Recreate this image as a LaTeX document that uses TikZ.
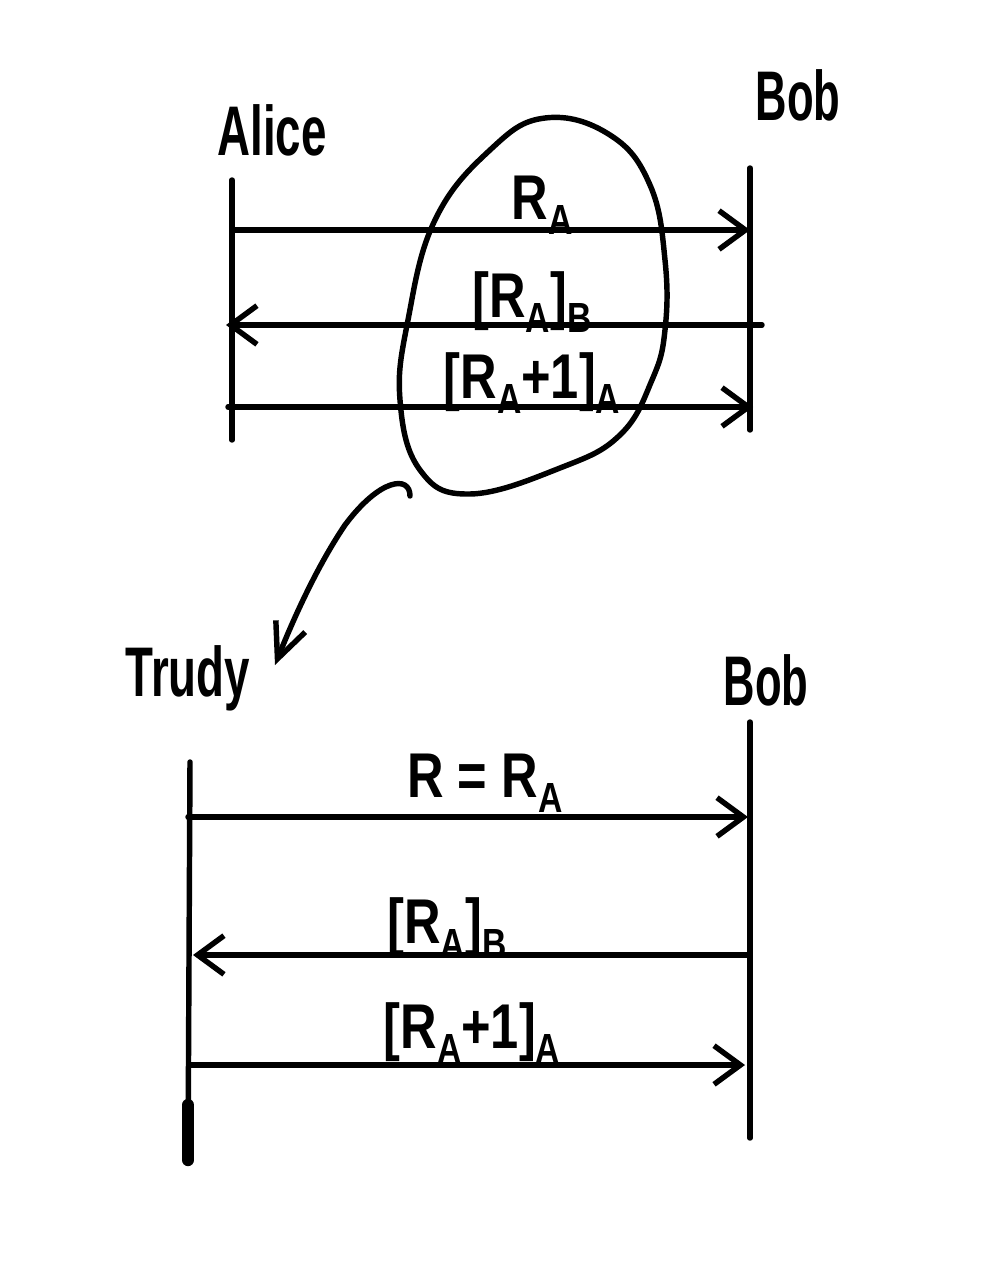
\documentclass[tikz,border=0pt]{standalone}
\usepackage{fontspec}
\usepackage{graphicx}
\setmainfont{Liberation Sans}
\usetikzlibrary{arrows.meta}
\newcommand\narrow[2]{\scalebox{#1}[1]{#2}}
\newcommand\sbs[1]{\raisebox{-0.45ex}{\fontsize{24}{26}\selectfont #1}}
\begin{document}
\begin{tikzpicture}[x=0.02cm,y=-0.02cm,
  ink/.style={line width=3.1pt,line cap=round,line join=round},
  msg/.style={ink,-{Straight Barb[length=15pt,width=22pt,line width=3.1pt]}},
  who/.style={font=\fontsize{40}{44}\selectfont\bfseries, inner sep=0pt},
  lbl/.style={font=\fontsize{36}{40}\selectfont\bfseries, inner sep=0pt}]
\useasboundingbox (0,0) rectangle (1000,1261);
% ---- top part
\node[who] (alice) at (272,130) {\narrow{0.65}{Alice}};
\node[who] (bob1) at (798,95) {\narrow{0.62}{Bob}};
\coordinate (a0) at (232,180);
\coordinate (a1) at (232,440);
\coordinate (b0) at (750,168);
\coordinate (b1) at (750,430);
\draw[ink] (a0) -- (a1);
\draw[ink] (b0) -- (b1);
\coordinate (m1s) at (232,230);
\coordinate (m1e) at (750,230);
\coordinate (m2s) at (762,325);
\coordinate (m2e) at (226,325);
\coordinate (m3s) at (228,407);
\coordinate (m3e) at (753,407);
\draw[msg] (m1s) -- (m1e);
\draw[msg] (m2s) -- (m2e);
\draw[msg] (m3s) -- (m3e);
\node[lbl] (l1) at (542,205) {\narrow{0.8}{R\sbs{A}}};
\node[lbl] (l2) at (532,302) {\narrow{0.8}{[R\sbs{A}]\sbs{B}}};
\node[lbl] (l3) at (532,383) {\narrow{0.8}{[R\sbs{A}+1]\sbs{A}}};
% blob
\draw[ink] plot[smooth cycle, tension=0.7] coordinates {
  (545,118) (610,135) (650,185) (665,260) (665,330) (652,380)
  (620,435) (560,468) (470,494) (420,470) (400,400) (408,320)
  (435,220) (490,150)};
% curved arrow
\coordinate (c0) at (410,496);
\coordinate (c1) at (275,665);
\draw[ink,-{Straight Barb[length=20pt,width=18pt,line width=3.1pt]}]
  (c0) .. controls (410,475) and (380,478) .. (345,525)
  .. controls (318,565) and (295,615) .. (c1);
% ---- bottom part
\node[who] (trudy) at (188,678) {\narrow{0.65}{Trudy}};
\node[who] (bob2) at (766,680) {\narrow{0.62}{Bob}};
\coordinate (t0) at (190,762);
\coordinate (t1) at (188,1160);
\coordinate (t2) at (188,1105);
\coordinate (c0b) at (750,722);
\coordinate (c1b) at (750,1138);
\draw[ink] (t0) -- (t1);
\draw[line width=7pt,line cap=round] (t2) -- (t1);
\draw[ink] (c0b) -- (c1b);
\coordinate (n1s) at (188,817);
\coordinate (n1e) at (748,817);
\coordinate (n2s) at (750,955);
\coordinate (n2e) at (193,955);
\coordinate (n3s) at (189,1065);
\coordinate (n3e) at (745,1065);
\draw[msg] (n1s) -- (n1e);
\draw[msg] (n2s) -- (n2e);
\draw[msg] (n3s) -- (n3e);
\node[lbl] (k1) at (485,783) {\narrow{0.8}{R = R\sbs{A}}};
\node[lbl] (k2) at (447,928) {\narrow{0.8}{[R\sbs{A}]\sbs{B}}};
\node[lbl] (k3) at (472,1033) {\narrow{0.8}{[R\sbs{A}+1]\sbs{A}}};
\end{tikzpicture}
\end{document}
